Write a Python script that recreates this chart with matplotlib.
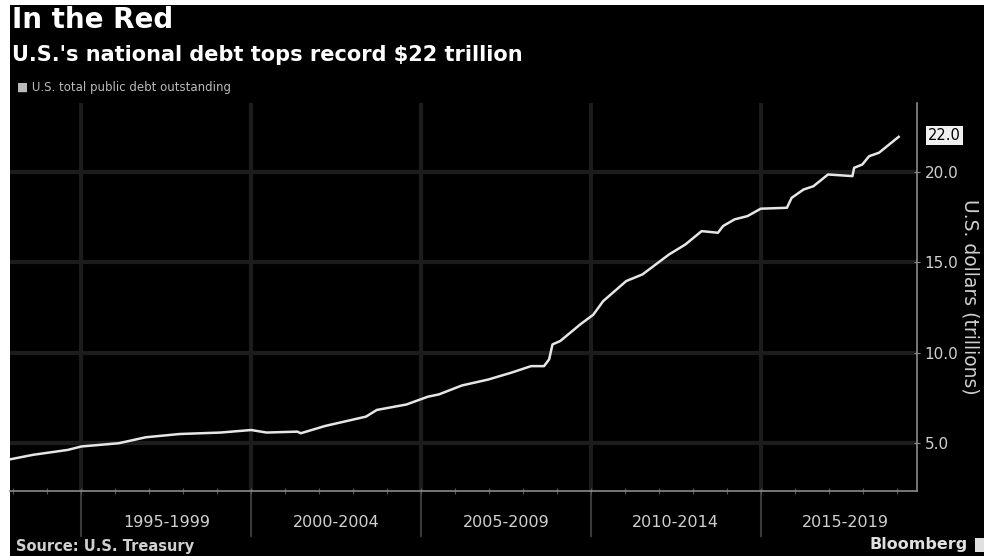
import matplotlib
matplotlib.use('Agg')
import matplotlib.pyplot as plt
from matplotlib.patches import Rectangle

# U.S. total public debt outstanding, trillions of dollars
years = [1992.93, 1993.58, 1994.6, 1995.0, 1996.1, 1996.9, 1997.9, 1999.1, 2000.0, 2000.45,
         2001.36, 2001.46, 2002.17, 2003.38, 2003.7, 2004.57, 2005.2, 2005.53, 2006.2, 2006.98,
         2007.66, 2008.24, 2008.62, 2008.77, 2008.87, 2009.1, 2009.69, 2010.07, 2010.36, 2011.04,
         2011.52, 2012.3, 2012.78, 2013.26, 2013.74, 2013.89, 2014.23, 2014.61, 2015.0, 2015.77,
         2015.91, 2016.26, 2016.55, 2016.98, 2017.7, 2017.75, 2017.99, 2018.19, 2018.48, 2019.06]
debt = [4.12, 4.36, 4.63, 4.82, 5.0, 5.33, 5.51, 5.59, 5.73, 5.59,
        5.64, 5.55, 5.95, 6.47, 6.84, 7.14, 7.57, 7.70, 8.19, 8.52,
        8.90, 9.26, 9.26, 9.63, 10.46, 10.65, 11.57, 12.1, 12.85, 13.96,
        14.33, 15.43, 15.98, 16.72, 16.63, 17.0, 17.37, 17.55, 17.96, 18.01,
        18.56, 19.02, 19.2, 19.85, 19.76, 20.22, 20.4, 20.86, 21.05, 21.93]

period_starts = [1995, 2000, 2005, 2010, 2015]
period_labels = ['1995-1999', '2000-2004', '2005-2009', '2010-2014', '2015-2019']
y_ticks = [5, 10, 15, 20]
last_value = 22.0

narrow = ['Liberation Sans Narrow', 'DejaVu Sans']
txt = '#d0d0d0'
grid = '#1c1c1c'
spine = '#8a8a8a'

fig = plt.figure(figsize=(9.84, 5.56), dpi=100, facecolor='white')
# black panel, leaving the thin white strip at left / top like the screenshot
fig.patches.append(Rectangle((10/984, 0), 1, 1 - 5/556, transform=fig.transFigure,
                             facecolor='black', edgecolor='none', zorder=-5))

ax = fig.add_axes([10/984, 1 - 491/556, (917 - 10)/984, (491 - 103)/556])
ax.set_facecolor('black')

ax.plot(years, debt, color='#e6e6e6', lw=1.8, zorder=3)

ax.set_xlim(1992.9, 2019.6)
ax.set_ylim(2.36, 23.8)

# grid
for v in y_ticks:
    ax.axhline(v, color=grid, lw=3, zorder=1)
for x in period_starts:
    ax.axvline(x, ymin=0, ymax=1, color=grid, lw=3, zorder=1)
    ax.axvline(x, ymin=-0.115, ymax=0, color='#3a3a3a', lw=1.5, zorder=1, clip_on=False)

for s in ['top', 'left']:
    ax.spines[s].set_visible(False)
ax.spines['bottom'].set_color(spine)
ax.spines['right'].set_color(spine)
ax.spines['bottom'].set_linewidth(1.2)
ax.spines['right'].set_linewidth(1.2)

# x axis: yearly minor ticks, period labels between the separators
ax.set_xticks(range(1993, 2020))
ax.set_xticklabels([])
ax.tick_params(axis='x', direction='inout', length=4, color='#555555')
for x, lab in zip(period_starts, period_labels):
    ax.text(x + 2.5, -0.08, lab, transform=ax.get_xaxis_transform(), ha='center', va='center',
            color=txt, fontsize=11.5, family=narrow)

# y axis on the right
ax.yaxis.tick_right()
ax.set_yticks(y_ticks)
ax.set_yticklabels(['%.1f' % v for v in y_ticks], color=txt, fontsize=11, family=narrow)
ax.tick_params(axis='y', direction='inout', length=5, color=spine, pad=3)
ax.yaxis.set_label_position('right')
ax.set_ylabel('U.S. dollars (trillions)', color=txt, fontsize=13.5, family=narrow,
              rotation=270, labelpad=15)

ax.annotate('%.1f' % last_value, xy=(1.0, last_value), xycoords=('axes fraction', 'data'),
            xytext=(8, 0), textcoords='offset points', ha='left', va='center',
            fontsize=10.5, family=narrow, color='black',
            bbox=dict(boxstyle='square,pad=0.15', facecolor='#f0f0f0', edgecolor='none'))

# titles
fig.text(12/984, 1 - 20/556, 'In the Red', color='white', fontsize=20, fontweight='bold',
         ha='left', va='center')
fig.text(12/984, 1 - 55/556, "U.S.'s national debt tops record $22 trillion", color='white',
         fontsize=15, fontweight='bold', ha='left', va='center')
fig.text(17/984, 1 - 88/556, '\u25a0 U.S. total public debt outstanding', color='#bbbbbb',
         fontsize=8.5, ha='left', va='center')

fig.text(16/984, 1 - 546/556, 'Source: U.S. Treasury', color=txt, fontsize=10.5,
         fontweight='bold', ha='left', va='center')
fig.text(968/984, 1 - 545/556, 'Bloomberg', color='#e0e0e0', fontsize=11.5,
         fontweight='bold', ha='right', va='center')
fig.patches.append(Rectangle((975/984, 1 - 552/556), 12/984, 14/556, transform=fig.transFigure,
                             facecolor='#e0e0e0', edgecolor='none', zorder=2))

fig.savefig('out.png', dpi=100, facecolor=fig.get_facecolor())
